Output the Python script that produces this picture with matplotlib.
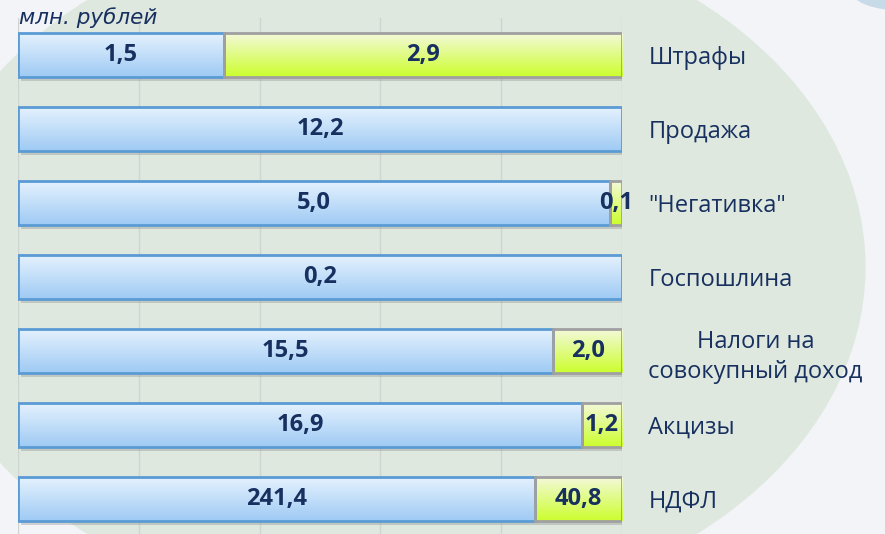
import numpy as np
import matplotlib.pyplot as plt
from matplotlib.patches import Ellipse
from matplotlib.colors import LinearSegmentedColormap
import matplotlib.patheffects as pe

plt.rcParams['font.family'] = ['Open Sans', 'DejaVu Sans']

# data (млн. рублей)
categories = ['Штрафы', 'Продажа', '"Негативка"', 'Госпошлина',
              'Налоги на\nсовокупный доход', 'Акцизы', 'НДФЛ']
part_a = [1.5, 12.2, 5.0, 0.2, 15.5, 16.9, 241.4]
part_b = [2.9, 0.0, 0.1, 0.0, 2.0, 1.2, 40.8]

a = np.array(part_a)
b = np.array(part_b)
total = a + b
share_a = a / total
share_b = b / total
y = np.arange(len(categories))
h = 0.6

text_col = '#17305f'
blue_cmap = LinearSegmentedColormap.from_list('blue', ['#e6f2fe', '#9fcbf4'])
green_cmap = LinearSegmentedColormap.from_list('green', ['#f4f9dc', '#ccfe2e'])

fig = plt.figure(figsize=(8.85, 5.34), dpi=100, facecolor='#f2f4f8')
fig.patches.append(Ellipse((0.443, 0.5), 1.07, 1.307, transform=fig.transFigure,
                           facecolor='#dee8df', edgecolor='none', zorder=-2))
fig.patches.append(Ellipse((1.02, 1.02), 0.12, 0.08, transform=fig.transFigure,
                           facecolor='#c7dae8', edgecolor='none', zorder=-2))

ax = fig.add_axes([18 / 885, -2 / 534, 604 / 885, 518 / 534])
ax.patch.set_alpha(0)

shadow = [pe.SimplePatchShadow(offset=(2, -3), shadow_rgbFace='#8a8a8a', alpha=0.35),
          pe.Normal()]

grad = np.linspace(0, 1, 64).reshape(-1, 1)


def draw_segments(left, width, cmap, edge):
    bars = ax.barh(y, width, left=left, height=h, color=cmap(0.5), edgecolor='none',
                   zorder=2)
    for bar, w in zip(bars, width):
        if w <= 0:
            bar.set_visible(False)
            continue
        bar.set_path_effects(shadow)
        x0, yc = bar.get_x(), bar.get_y()
        im = ax.imshow(grad, cmap=cmap, aspect='auto', zorder=2.5,
                       extent=(x0, x0 + bar.get_width(), yc + h, yc),
                       interpolation='bilinear')
        im.set_clip_path(bar)
    edges = ax.barh(y, width, left=left, height=h, fill=False, edgecolor=edge,
                    linewidth=2, zorder=3)
    for e, w in zip(edges, width):
        if w <= 0:
            e.set_visible(False)


draw_segments(np.zeros_like(share_a), share_a, blue_cmap, '#5b9bd5')
draw_segments(share_a, share_b, green_cmap, '#a0a0a0')

for i in range(len(categories)):
    ax.text(share_a[i] / 2, y[i], f'{a[i]:.1f}'.replace('.', ','), ha='center',
            va='center', fontsize=17, fontweight='bold', color=text_col, zorder=5)
    if b[i] > 0:
        ax.text(share_a[i] + share_b[i] / 2, y[i], f'{b[i]:.1f}'.replace('.', ','),
                ha='center', va='center', fontsize=17, fontweight='bold',
                color=text_col, zorder=5)

ax.set_xlim(0, 1)
ax.set_ylim(len(categories) - 0.5, -0.5)
ax.set_xticks(np.arange(0, 1.01, 0.2))
ax.tick_params(axis='x', length=0, labelbottom=False)
ax.grid(axis='x', color='#d0d4d0', linewidth=1, zorder=1)
ax.set_axisbelow(True)
for s in ax.spines.values():
    s.set_visible(False)

ax.yaxis.tick_right()
ax.set_yticks(y)
ax.set_yticklabels(categories, fontsize=17, color=text_col)
ax.tick_params(axis='y', length=0, pad=19)
for lab in ax.get_yticklabels():
    lab.set_horizontalalignment('left')
    lab.set_multialignment('center')
    lab.set_linespacing(1.35)

fig.text(19 / 885, 1 - 24 / 534, 'млн. рублей', fontsize=15.5, style='italic',
         family='DejaVu Sans', color=text_col, ha='left', va='baseline')

fig.savefig('out.png', dpi=100, facecolor=fig.get_facecolor())
